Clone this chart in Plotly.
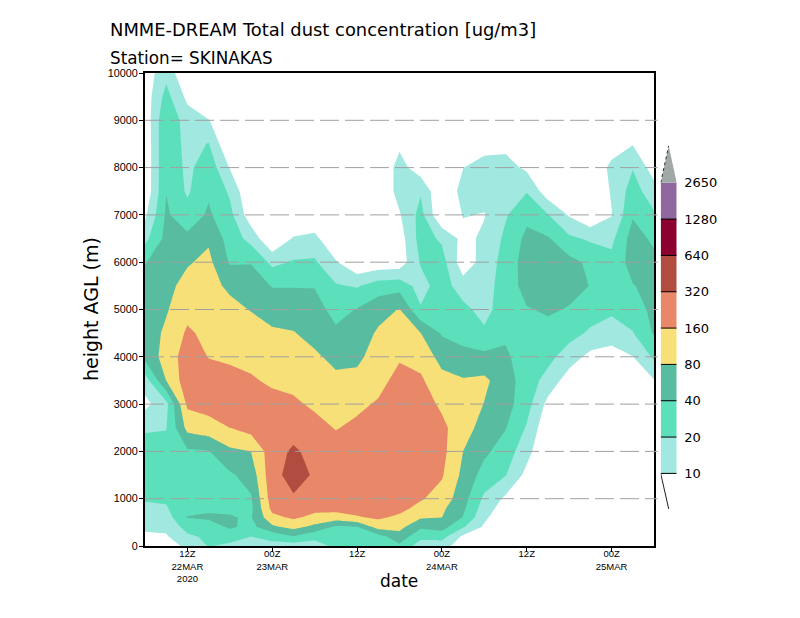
import plotly.graph_objects as go
import pandas as pd
import numpy as np

# Heights (m AGL)
heights = [0, 200, 400, 600, 800, 1000, 1500, 2000, 2500, 3000, 3500, 4000, 4500,
           5000, 5500, 6000, 6500, 7000, 7500, 8000, 8500, 9000, 9500, 10000]
# 3-hourly times, 06Z 22 Mar .. 06Z 25 Mar 2020
times = pd.date_range("2020-03-22 06:00", "2020-03-25 06:00", freq="3h")

# Dust concentration per time column, as log2(conc / 10 ug/m3)
c00 = [-0.4,-0.2,0.2,0.5,0.8,1.1,1.4,1.35,0.9,-0.3,0.5,2.3,2.4,2.5,2.4,1.95,0.7,-0.2,-0.8,-0.8,-0.8,-0.7,-0.6,-0.6]
c01 = [-0.6,-0.1,0.2,0.55,0.9,1.15,1.6,1.4,0.95,0.7,3.0,3.4,3.2,2.9,2.7,2.5,2.3,2.15,1.97,1.95,1.95,1.9,1.35,0.7]
c02 = [0.3,0.8,1.4,2.02,1.9,1.8,1.6,1.85,3.3,4.2,4.6,4.5,4.15,3.7,3.35,2.9,2.25,1.4,0.85,0.72,0.6,0.49,-0.25,-1]
c03 = [1.05,1.2,1.5,2.15,1.85,1.65,1.55,1.95,3.6,4.4,4.4,3.97,3.75,3.55,3.35,3.25,2.85,2.15,1.85,1.65,1.05,0.05,-1,-1]
c04 = [0.8,1.4,2.15,2.05,1.9,1.75,1.85,2.8,4.0,4.35,4.2,3.9,3.55,3.3,2.8,1.9,1.6,1.3,0.85,-0.05,-1,-1,-1,-1]
c05 = [0.8,1.0,1.7,1.92,1.8,1.9,2.4,3.0,4.4,4.6,4.1,3.75,3.45,2.95,2.45,1.95,0.65,-0.6,-1,-1,-1,-1,-1,-1]
c06 = [0.7,1.3,2.8,3.7,4.3,4.5,4.7,4.6,4.5,4.3,3.85,3.5,3.15,2.6,1.95,0.75,-1,-1,-1,-1,-1,-1,-1,-1]
c07 = [0.5,1.95,3.3,4.15,4.5,4.9,5.35,5.15,4.6,4.15,3.75,3.4,3.05,2.55,1.95,1.1,0.1,-1,-1,-1,-1,-1,-1,-1]
c08 = [0.6,1.3,2.7,3.7,4.3,4.5,4.9,4.7,4.3,3.85,3.5,3.15,2.7,2.4,1.95,1.15,0.3,-0.9,-1,-1,-1,-1,-1,-1]
c09 = [1.2,1.4,1.8,3.5,4.4,4.6,4.6,4.4,3.95,3.55,3.2,2.75,2.2,1.65,1.1,0.1,-1,-1,-1,-1,-1,-1,-1,-1]
c10 = [1.3,1.5,1.95,3.9,4.4,4.6,4.8,4.6,4.2,3.8,3.25,2.8,2.4,2.05,0.9,-0.9,-1,-1,-1,-1,-1,-1,-1,-1]
c11 = [1.4,1.6,3.4,4.15,4.4,4.7,4.8,4.8,4.6,4.1,3.7,3.4,3.15,2.6,1.5,-0.7,-1,-1,-1,-1,-1,-1,-1,-1]
c12 = [1.8,2.6,3.3,3.8,4.3,4.6,4.8,4.9,4.8,4.6,4.3,3.9,3.5,3.05,1.6,-0.6,-0.5,-0.1,0.4,0.4,-0.2,-1,-1,-1]
c13 = [0.5,1.3,2.15,3.1,3.7,4.1,4.4,4.5,4.5,4.4,4.15,3.65,3.02,1.1,0.6,1.1,1.4,1.35,0.9,-0.6,-1,-1,-1,-1]
c14 = [0.45,1.4,2.4,3.0,3.2,3.6,4.1,4.3,4.2,3.85,3.3,2.65,1.9,1.7,1.5,1.4,0.85,-1,-1,-1,-1,-1,-1,-1]
c15 = [-0.6,-0.2,1.1,1.95,2.2,2.4,2.75,3.0,3.5,3.6,3.1,2.2,1.75,1.3,0.45,-0.6,-0.3,0.05,0.4,-0.02,-1,-1,-1,-1]
c16 = [-1,-0.6,-0.15,0.2,0.5,0.8,1.6,2.2,2.55,2.97,3.2,2.25,1.2,0.6,0.5,0.4,0.2,-0.05,0.4,0.4,-0.4,-1,-1,-1]
c17 = [-1,-1,-1,-0.8,-0.5,-0.2,1.05,1.55,2.05,2.4,2.45,2.15,1.85,1.65,1.55,1.4,1.2,0.9,0.65,0.4,-0.3,-1,-1,-1]
c18 = [-1,-1,-1,-1,-1,-1,-0.3,0.35,0.9,1.4,1.5,1.55,1.65,1.95,2.3,2.45,2.25,1.75,0.95,-0.2,-1,-1,-1,-1]
c19 = [-1,-1,-1,-1,-1,-1,-1,-1,-0.8,-0.3,0.65,1.3,1.75,2.1,2.35,2.35,2.1,1.05,-0.6,-1,-1,-1,-1,-1]
c20 = [-1,-1,-1,-1,-1,-1,-1,-1,-1,-1,-0.5,0.5,1.35,1.95,2.25,2.3,1.2,-0.1,-1,-1,-1,-1,-1,-1]
c21 = [-1,-1,-1,-1,-1,-1,-1,-1,-1,-1,-1,-0.3,0.85,1.45,1.98,1.8,0.85,-0.9,-1,-1,-1,-1,-1,-1]
c22 = [-1,-1,-1,-1,-1,-1,-1,-1,-1,-1,-1,-0.45,0.5,1.2,1.4,1.3,0.75,-0.05,0.1,0.3,-0.6,-1,-1,-1]
c23 = [-1,-1,-1,-1,-1,-1,-1,-1,-1,-1,-0.7,-0.02,0.95,1.45,1.95,2.4,2.45,1.9,1.45,0.95,-0.05,-1,-1,-1]
c24 = [-1,-1,-1,-1,-1,-1,-1,-1,-1,-0.5,-0.05,1.15,2.1,2.3,2.35,2.25,1.8,1.15,0.4,-0.5,-1,-1,-1,-1]
columns = [c00,c01,c02,c03,c04,c05,c06,c07,c08,c09,c10,c11,c12,c13,c14,c15,c16,c17,c18,c19,c20,c21,c22,c23,c24]

level_labels = ["10", "20", "40", "80", "160", "320", "640", "1280", "2650"]
band_colors = ["#a0e8e0", "#5ce0bc", "#58bca0", "#f8e078", "#e88868",
               "#b04c40", "#8c0030", "#9068a0"]
top_color = "#a0a8a8"

x_tickvals = ["2020-03-22 12:00", "2020-03-23 00:00", "2020-03-23 12:00",
              "2020-03-24 00:00", "2020-03-24 12:00", "2020-03-25 00:00"]
x_ticktext = ["12Z<br>22MAR<br>2020", "00Z<br>23MAR", "12Z", "00Z<br>24MAR", "12Z", "00Z<br>25MAR"]
y_tickvals = list(range(0, 10001, 1000))

# step colorscale over -1 .. 8 : white below the first level
all_cols = ["#ffffff"] + band_colors + [top_color]
n = len(all_cols)
colorscale = []
for i, c in enumerate(all_cols):
    colorscale += [[i / n, c], [(i + 1) / n, c]]

z = np.array(columns).T

fig = go.Figure()
fig.add_trace(go.Contour(
    x=times, y=heights, z=z, xaxis="x", yaxis="y",
    zmin=-1, zmax=n - 1, colorscale=colorscale, showscale=False,
    contours=dict(coloring="fill", start=0, end=8, size=1, showlines=False),
    line=dict(width=0, smoothing=0), hoverinfo="skip",
))

# key: one cell per band on its own small axes
fig.add_trace(go.Heatmap(
    x=[0.5], y=[i + 0.5 for i in range(len(band_colors))],
    z=[[i + 0.5] for i in range(len(band_colors))],
    xaxis="x2", yaxis="y2", zmin=-1, zmax=n - 1, colorscale=colorscale,
    showscale=False, hoverinfo="skip",
))
fig.add_trace(go.Scatter(x=[0, 1, 0.5, 0], y=[8, 8, 9.02, 8], xaxis="x2", yaxis="y2", mode="lines",
                         fill="toself", fillcolor=top_color, line=dict(color=top_color, width=0),
                         hoverinfo="skip", showlegend=False))
fig.add_trace(go.Scatter(x=[0, 0.5], y=[8, 9.02], xaxis="x2", yaxis="y2",
                         mode="lines", line=dict(color="#303030", width=1, dash="3px,3px"), hoverinfo="skip", showlegend=False))
fig.add_trace(go.Scatter(x=[0, 0.5], y=[0, -0.98], xaxis="x2", yaxis="y2",
                         mode="lines", line=dict(color="#202020", width=1), hoverinfo="skip", showlegend=False))
bx, by = [], []
for k in range(8):
    bx += [0, 1, None]
    by += [k, k, None]
fig.add_trace(go.Scatter(x=bx, y=by, xaxis="x2", yaxis="y2", mode="lines",
                         line=dict(color="#000000", width=1), hoverinfo="skip", showlegend=False))

shapes = []
for v in y_tickvals[1:-1]:
    shapes.append(dict(type="line", xref="x domain", yref="y", x0=0, x1=1, y0=v, y1=v, layer="above",
                       line=dict(color="#a0a0a0", width=1, dash="19px,6px")))
    shapes.append(dict(type="line", xref="x domain", yref="y", x0=1, x1=1.007, y0=v, y1=v, layer="above",
                       line=dict(color="#a0a0a0", width=1)))

W, H = 800, 618
L, R, T, B = 145, 654, 73, 546
def px(x): return x / W
def py(y): return 1 - y / H

annotations = [
    dict(text="NMME-DREAM Total dust concentration [ug/m3]", x=px(108), y=py(29), xref="paper", yref="paper",
         xanchor="left", yanchor="middle", showarrow=False, font=dict(family="DejaVu Sans", size=17.9, color="#000000")),
    dict(text="Station= SKINAKAS", x=px(108), y=py(57.5), xref="paper", yref="paper",
         xanchor="left", yanchor="middle", showarrow=False, font=dict(family="DejaVu Sans", size=16.8, color="#000000")),
    dict(text="height AGL (m)", x=px(91), y=py(309), xref="paper", yref="paper", textangle=-90,
         xanchor="center", yanchor="middle", showarrow=False, font=dict(family="DejaVu Sans", size=19, color="#000000")),
    dict(text="date", x=px(399), y=py(581), xref="paper", yref="paper",
         xanchor="center", yanchor="middle", showarrow=False, font=dict(family="DejaVu Sans", size=17, color="#000000")),
]

fig.update_layout(
    width=W, height=H, autosize=False, showlegend=False,
    margin=dict(l=0, r=0, t=0, b=0, pad=0, autoexpand=False),
    paper_bgcolor="#ffffff", plot_bgcolor="#ffffff",
    xaxis=dict(type="date", domain=[px(L), px(R)], range=[times[0], times[-1]], tickmode="array",
               tickvals=x_tickvals, ticktext=x_ticktext, ticks="outside", ticklen=4, tickcolor="#000000",
               showgrid=False, zeroline=False, showline=True, linecolor="#000000", linewidth=2, mirror=True,
               tickangle=0, ticklabelstandoff=-6, tickfont=dict(family="Liberation Sans", size=9.5, color="#000000")),
    yaxis=dict(domain=[py(B), py(T)], range=[0, 10000], tickmode="array", tickvals=y_tickvals,
               ticktext=[str(v) for v in y_tickvals], ticks="outside", ticklen=4, tickcolor="#000000",
               showgrid=False, zeroline=False, showline=True, linecolor="#000000", linewidth=2, mirror=True,
               ticklabelstandoff=-1, tickfont=dict(family="Liberation Sans", size=10.8, color="#000000")),
    xaxis2=dict(domain=[px(660.7), px(676.7)], range=[0, 1], anchor="y2", visible=False),
    yaxis2=dict(domain=[py(509), py(145.7)], range=[-0.98, 9.02], anchor="x2", side="right",
                tickmode="array", tickvals=list(range(9)), ticktext=level_labels,
                ticks="outside", ticklen=4, tickcolor="rgba(0,0,0,0)", showline=False, showgrid=False, zeroline=False,
                tickfont=dict(family="DejaVu Sans", size=13, color="#000000")),
    shapes=shapes, annotations=annotations,
)
fig.write_html("out.html", config=dict(displayModeBar=False), post_script="document.body.style.margin='0';")
